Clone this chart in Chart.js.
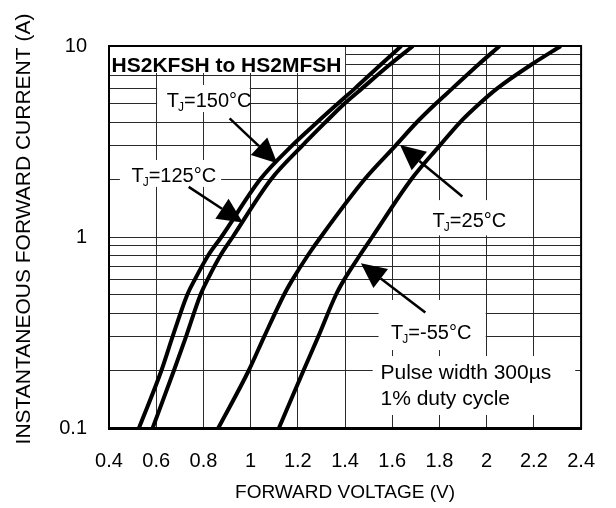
<!DOCTYPE html>
<html>
<head>
<meta charset="utf-8">
<script src="https://cdn.jsdelivr.net/npm/chart.js@4.4.0/dist/chart.umd.min.js"></script>
<style>
  html, body { margin: 0; padding: 0; background: #fff; }
  #wrap { width: 616px; height: 508px; }
</style>
</head>
<body>
<div id="wrap"><canvas id="ivChart"></canvas></div>
<script>
// Forward current points (A) shared by all curves
const currents = [0.1, 0.2, 0.3, 0.5, 0.6, 0.8, 1, 2, 3, 4, 5, 6, 8, 10];

// Forward voltage (V) at those currents
const vf150 = [0.527, 0.622, 0.669, 0.732, 0.764, 0.820, 0.876, 1.040, 1.174, 1.283, 1.370, 1.442, 1.552, 1.638];
const vf125 = [0.585, 0.675, 0.726, 0.788, 0.818, 0.872, 0.924, 1.086, 1.218, 1.318, 1.398, 1.472, 1.590, 1.688];
const vf25 = [0.863, 0.992, 1.057, 1.142, 1.178, 1.242, 1.297, 1.482, 1.613, 1.705, 1.785, 1.855, 1.965, 2.055];
const vfMinus55 = [1.120, 1.224, 1.286, 1.362, 1.397, 1.462, 1.515, 1.680, 1.800, 1.888, 1.970, 2.045, 2.190, 2.314];

// Axis ticks
const xTickValues = [0.4, 0.6, 0.8, 1.0, 1.2, 1.4, 1.6, 1.8, 2.0, 2.2, 2.4];
const xTickLabels = ['0.4', '0.6', '0.8', '1', '1.2', '1.4', '1.6', '1.8', '2', '2.2', '2.4'];
const yGridValues = [0.1, 0.2, 0.3, 0.4, 0.5, 0.6, 0.7, 0.8, 0.9, 1, 2, 3, 4, 5, 6, 7, 8, 9, 10];
const yLabelValues = [0.1, 1, 10];
const yTickLabels = ['0.1', '1', '10'];

const FONT = '"Liberation Sans", Arial, Helvetica, sans-serif';

// Labels on the plot, anchored in data units (V, A)
const curveNotes = [
  { rest: '=150°C', v: 0.645, i: 4.77, box: [0.604, 0.996, 4.51, 6.25] },
  { rest: '=125°C', v: 0.495, i: 1.95, box: [0.446, 0.875, 1.83, 2.53] },
  { rest: '=25°C', v: 1.771, i: 1.13, box: [1.729, 2.133, 1.02, 1.56] },
  { rest: '=-55°C', v: 1.595, i: 0.292, box: [1.542, 1.996, 0.256, 0.468] }
];
const arrows = [
  { from: [0.911, 4.18], to: [1.1125, 2.43] },
  { from: [0.7375, 1.83], to: [0.967, 1.19] },
  { from: [1.897, 1.63], to: [1.633, 3.03] },
  { from: [1.740, 0.402], to: [1.467, 0.728] }
];
const titleNote = { text: 'HS2KFSH to HS2MFSH', v: 0.411, i: 7.33, box: [0.4, 1.4, 7.22, 10] };
const pulseNote = { lines: ['Pulse width 300µs', '1% duty cycle'], v: 1.55, i: [0.18, 0.132], box: [1.517, 2.375, 0.117, 0.238] };

function toPoints(volts) {
  return currents.map((c, k) => ({ x: volts[k], y: c }));
}

function whiteBox(ctx, xs, ys, box) {
  const x0 = xs.getPixelForValue(box[0]);
  const x1 = xs.getPixelForValue(box[1]);
  const y0 = ys.getPixelForValue(box[3]);
  const y1 = ys.getPixelForValue(box[2]);
  ctx.fillStyle = '#fff';
  ctx.fillRect(x0, y0, x1 - x0, y1 - y0);
}

function drawTJ(ctx, x, y, rest, size) {
  ctx.fillStyle = '#000';
  ctx.textAlign = 'left';
  ctx.textBaseline = 'alphabetic';
  ctx.font = size + 'px ' + FONT;
  ctx.fillText('T', x, y);
  let cx = x + ctx.measureText('T').width - 1;
  ctx.font = Math.round(size * 0.6) + 'px ' + FONT;
  ctx.fillText('J', cx, y + size * 0.2);
  cx += ctx.measureText('J').width;
  ctx.font = size + 'px ' + FONT;
  ctx.fillText(rest, cx, y);
}

function drawArrow(ctx, x0, y0, x1, y1) {
  const ang = Math.atan2(y1 - y0, x1 - x0);
  const headLen = 25, headHalf = 12;
  const bx = x1 - headLen * Math.cos(ang);
  const by = y1 - headLen * Math.sin(ang);
  ctx.strokeStyle = '#000';
  ctx.fillStyle = '#000';
  ctx.lineWidth = 2.5;
  ctx.beginPath();
  ctx.moveTo(x0, y0);
  ctx.lineTo(bx, by);
  ctx.stroke();
  ctx.beginPath();
  ctx.moveTo(x1, y1);
  ctx.lineTo(bx + headHalf * Math.sin(ang), by - headHalf * Math.cos(ang));
  ctx.lineTo(bx - headHalf * Math.sin(ang), by + headHalf * Math.cos(ang));
  ctx.closePath();
  ctx.fill();
}

const datasheetNotes = {
  id: 'datasheetNotes',
  beforeDatasetsDraw(chart) {
    const { ctx, scales: { x, y } } = chart;
    ctx.save();
    whiteBox(ctx, x, y, titleNote.box);
    curveNotes.forEach(n => whiteBox(ctx, x, y, n.box));
    whiteBox(ctx, x, y, pulseNote.box);
    ctx.restore();
  },
  afterDatasetsDraw(chart) {
    const { ctx, scales: { x, y } } = chart;
    ctx.save();
    // title inside the plot
    ctx.fillStyle = '#000';
    ctx.textAlign = 'left';
    ctx.textBaseline = 'alphabetic';
    ctx.font = 'bold 21px ' + FONT;
    ctx.fillText(titleNote.text, x.getPixelForValue(titleNote.v), y.getPixelForValue(titleNote.i));

    curveNotes.forEach(n => {
      drawTJ(ctx, x.getPixelForValue(n.v), y.getPixelForValue(n.i), n.rest, 20);
    });

    ctx.font = '21px ' + FONT;
    ctx.fillStyle = '#000';
    pulseNote.lines.forEach((line, k) => {
      ctx.fillText(line, x.getPixelForValue(pulseNote.v), y.getPixelForValue(pulseNote.i[k]));
    });

    arrows.forEach(a => {
      drawArrow(ctx,
        x.getPixelForValue(a.from[0]), y.getPixelForValue(a.from[1]),
        x.getPixelForValue(a.to[0]), y.getPixelForValue(a.to[1]));
    });
    ctx.restore();
  },
  afterDraw(chart) {
    const { ctx, chartArea } = chart;
    ctx.save();
    // plot frame
    ctx.strokeStyle = '#000';
    ctx.lineWidth = 2;
    ctx.strokeRect(chartArea.left, chartArea.top, chartArea.right - chartArea.left, chartArea.bottom - chartArea.top);
    // y axis title, sits a bit above the plot centre like the original
    ctx.translate(24, 229);
    ctx.rotate(-Math.PI / 2);
    ctx.fillStyle = '#000';
    ctx.textAlign = 'center';
    ctx.textBaseline = 'middle';
    ctx.font = '21px ' + FONT;
    ctx.fillText('INSTANTANEOUS FORWARD CURRENT (A)', 0, 0);
    ctx.restore();
  }
};

const curveStyle = {
  borderColor: '#000',
  borderWidth: 4,
  pointRadius: 0,
  fill: false,
  cubicInterpolationMode: 'monotone'
};

Chart.defaults.font.family = FONT;
Chart.defaults.color = '#000';

const ctx = document.getElementById('ivChart').getContext('2d');
new Chart(ctx, {
  type: 'line',
  data: {
    datasets: [
      { label: 'TJ=150°C', data: toPoints(vf150), ...curveStyle },
      { label: 'TJ=125°C', data: toPoints(vf125), ...curveStyle },
      { label: 'TJ=25°C', data: toPoints(vf25), ...curveStyle },
      { label: 'TJ=-55°C', data: toPoints(vfMinus55), ...curveStyle }
    ]
  },
  options: {
    responsive: true,
    maintainAspectRatio: false,
    animation: false,
    layout: { padding: { top: 46, right: 27, bottom: 0, left: 0 } },
    plugins: {
      legend: { display: false },
      tooltip: { enabled: false }
    },
    scales: {
      x: {
        type: 'linear',
        min: 0.4,
        max: 2.4,
        afterBuildTicks: scale => { scale.ticks = xTickValues.map(value => ({ value })); },
        afterFit: scale => { scale.height = 80; },
        grid: { color: '#2a2a2a', lineWidth: 1, drawTicks: false },
        border: { display: true, color: '#000', width: 3 },
        ticks: {
          autoSkip: false,
          maxRotation: 0,
          padding: 21,
          font: { size: 20 },
          callback: (value, index) => xTickLabels[index]
        },
        title: {
          display: true,
          text: 'FORWARD VOLTAGE (V)',
          font: { size: 19 },
          padding: { top: 0, bottom: 4 }
        }
      },
      y: {
        type: 'logarithmic',
        min: 0.1,
        max: 10,
        afterBuildTicks: scale => { scale.ticks = yGridValues.map(value => ({ value })); },
        afterFit: scale => { scale.width = 109; },
        grid: { color: '#2a2a2a', lineWidth: 1, drawTicks: false },
        border: { display: true, color: '#000', width: 2 },
        ticks: {
          autoSkip: false,
          padding: 22,
          font: { size: 20 },
          callback: value => {
            const k = yLabelValues.findIndex(v => Math.abs(v - value) < 1e-9);
            return k >= 0 ? yTickLabels[k] : '';
          }
        }
      }
    }
  },
  plugins: [datasheetNotes]
});
</script>
</body>
</html>
